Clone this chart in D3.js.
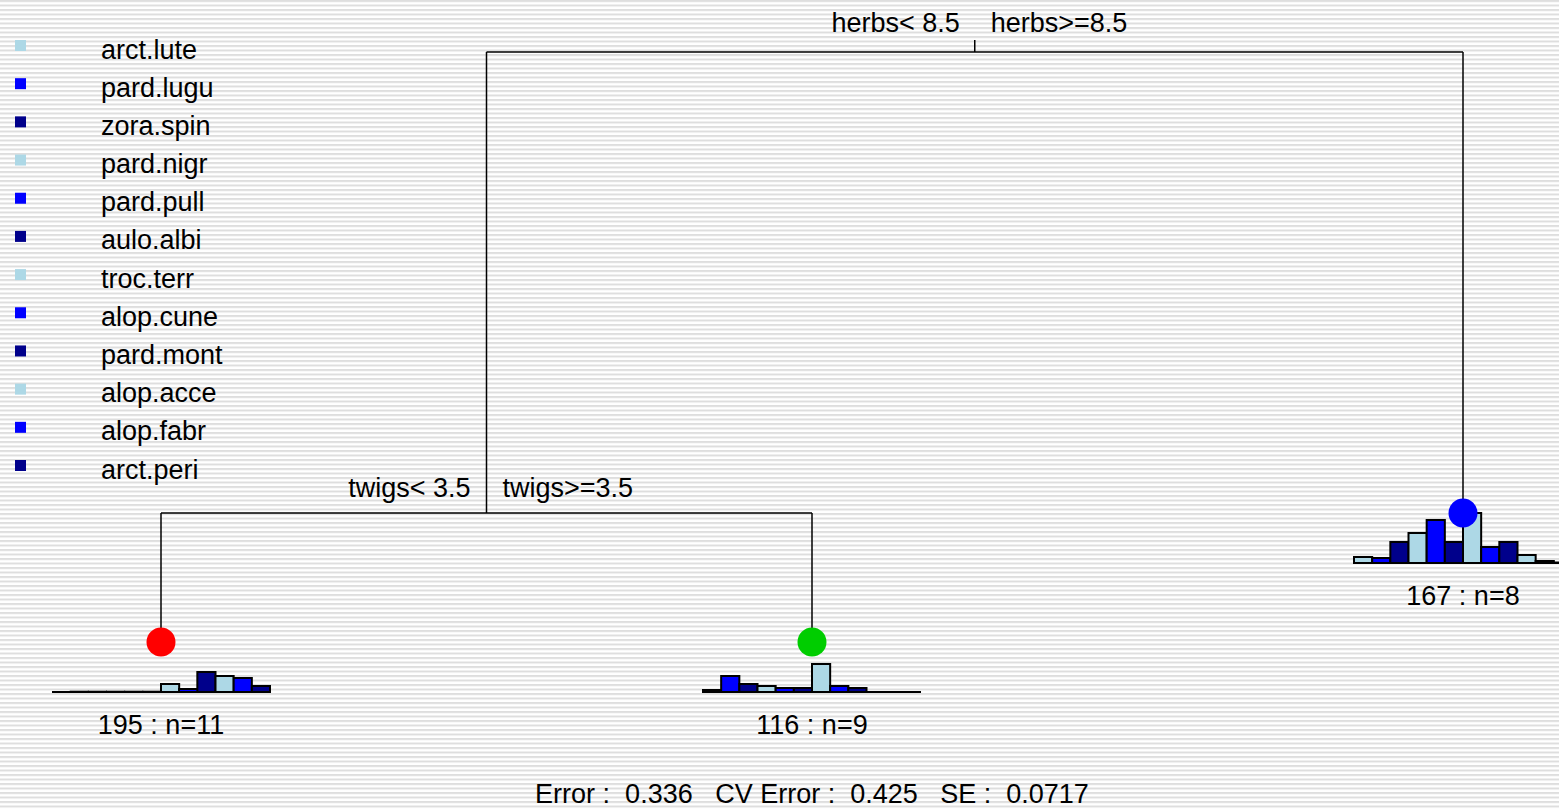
<!DOCTYPE html>
<html>
<head>
<meta charset="utf-8">
<script src="https://cdn.jsdelivr.net/npm/d3@7"></script>
<style>
  body { margin: 0; background: #fff; }
  svg { display: block; }
  text { font-family: "Liberation Sans", Arial, Helvetica, sans-serif; font-size: 27px; fill: #000; white-space: pre; }
</style>
</head>
<body>
<svg id="chart"></svg>
<script>
var width = 1559, height = 809;

// species, in plotting order
var species = ["arct.lute", "pard.lugu", "zora.spin", "pard.nigr", "pard.pull", "aulo.albi",
               "troc.terr", "alop.cune", "pard.mont", "alop.acce", "alop.fabr", "arct.peri"];
var speciesColors = ["#ADD8E6", "#0000FF", "#00008B"];

// leaves (left to right): deviance, n, mean species abundance (relative)
var leafDev = [195, 116, 167];
var leafN = [11, 9, 8];
var leafColors = ["#FF0000", "#00CD00", "#0000FF"];
var leafLevel = [2, 2, 1];
var leafMeans = [
  [0, 0.8, 0.8, 0.8, 0.8, 0.8, 8, 3, 20, 16, 14, 6],
  [2, 16, 8, 6, 4, 4, 28, 6, 4, 0, 0, 0],
  [6, 5, 21, 30, 43, 21, 50, 16, 21, 8, 2, 1]
];

// splits
var rootLabels = ["herbs< 8.5", "herbs>=8.5"];
var leftLabels = ["twigs< 3.5", "twigs>=3.5"];

var errText = "Error :  0.336   CV Error :  0.425   SE :  0.0717";

var svg = d3.select("#chart").attr("width", width).attr("height", height);

// striped background
var defs = svg.append("defs");
var pat = defs.append("pattern")
    .attr("id", "stripes")
    .attr("patternUnits", "userSpaceOnUse")
    .attr("width", 20).attr("height", 4.5);
pat.append("rect").attr("width", 20).attr("height", 4.5).attr("fill", "#ffffff");
pat.append("rect").attr("y", 0).attr("width", 20).attr("height", 2).attr("fill", "#dedede");
svg.append("rect").attr("width", width).attr("height", height).attr("fill", "url(#stripes)");

// leaf x positions and node levels
var x = d3.scaleLinear().domain([0, 2]).range([161, 1463]);
var levelY = d3.scaleOrdinal().domain([0, 1, 2]).range([52, 513, 642]);

var leftX = (x(0) + x(1)) / 2;
var rootX = (leftX + x(2)) / 2;

var g = svg.append("g").attr("stroke", "#000").attr("stroke-width", 1.5).attr("fill", "none");

// root
g.append("line").attr("x1", rootX).attr("x2", rootX).attr("y1", levelY(0) - 12).attr("y2", levelY(0));
g.append("line").attr("x1", leftX).attr("x2", x(2)).attr("y1", levelY(0)).attr("y2", levelY(0));
g.append("line").attr("x1", leftX).attr("x2", leftX).attr("y1", levelY(0)).attr("y2", levelY(1));
g.append("line").attr("x1", x(2)).attr("x2", x(2)).attr("y1", levelY(0)).attr("y2", levelY(1));
// left split
g.append("line").attr("x1", x(0)).attr("x2", x(1)).attr("y1", levelY(1)).attr("y2", levelY(1));
g.append("line").attr("x1", x(0)).attr("x2", x(0)).attr("y1", levelY(1)).attr("y2", levelY(2));
g.append("line").attr("x1", x(1)).attr("x2", x(1)).attr("y1", levelY(1)).attr("y2", levelY(2));

// split labels
svg.append("text").attr("x", rootX - 15).attr("y", levelY(0) - 20).attr("text-anchor", "end").text(rootLabels[0]);
svg.append("text").attr("x", rootX + 16).attr("y", levelY(0) - 20).attr("text-anchor", "start").text(rootLabels[1]);
svg.append("text").attr("x", leftX - 16).attr("y", levelY(1) - 16).attr("text-anchor", "end").text(leftLabels[0]);
svg.append("text").attr("x", leftX + 16).attr("y", levelY(1) - 16).attr("text-anchor", "start").text(leftLabels[1]);

// leaf histograms
var hWidth = 218;
var hScale = d3.scaleLinear().domain([0, 50]).range([0, 50]);
leafMeans.forEach(function(vals, i) {
  var cx = x(i), cy = levelY(leafLevel[i]);
  var base = cy + 50;
  var band = d3.scaleBand().domain(d3.range(species.length)).range([cx - hWidth / 2, cx + hWidth / 2]).padding(0);
  var lg = svg.append("g");
  lg.append("line")
    .attr("x1", cx - hWidth / 2).attr("x2", cx + hWidth / 2)
    .attr("y1", base).attr("y2", base)
    .attr("stroke", "#000").attr("stroke-width", 2);
  lg.selectAll("rect").data(vals).enter().append("rect")
    .attr("x", function(d, j) { return band(j); })
    .attr("y", function(d) { return base - hScale(d); })
    .attr("width", band.bandwidth())
    .attr("height", function(d) { return hScale(d); })
    .attr("fill", function(d, j) { return speciesColors[j % 3]; })
    .attr("stroke", "#000").attr("stroke-width", function(d) { return d > 1 ? 2 : 1; });
  lg.append("circle").attr("cx", cx).attr("cy", cy).attr("r", 14.5).attr("fill", leafColors[i]);
  lg.append("text").attr("x", cx).attr("y", cy + 92).attr("text-anchor", "middle")
    .text(leafDev[i] + " : n=" + leafN[i]);
});

// legend
var legendY = d3.scaleLinear().domain([0, species.length - 1]).range([40, 460]);
var leg = svg.append("g");
leg.selectAll("rect").data(species).enter().append("rect")
  .attr("x", 15).attr("y", function(d, i) { return legendY(i); })
  .attr("width", 11).attr("height", 11)
  .attr("fill", function(d, i) { return speciesColors[i % 3]; });
leg.selectAll("text").data(species).enter().append("text")
  .attr("x", 101).attr("y", function(d, i) { return legendY(i) + 18.5; })
  .text(function(d) { return d; });

// error summary
svg.append("text").attr("x", 812).attr("y", 803).attr("text-anchor", "middle")
  .attr("xml:space", "preserve").text(errText);
</script>
</body>
</html>
